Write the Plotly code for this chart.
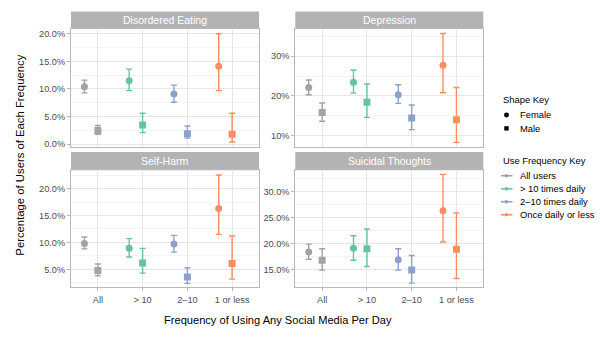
import plotly.graph_objects as go

# Frequency categories along the x axis
categories = ["All", "> 10", "2–10", "1 or less"]
group_names = ["All users", "> 10 times daily", "2–10 times daily", "Once daily or less"]
group_colors = ["#A3A3A3", "#66C2A5", "#8DA0CB", "#FC8D62"]

# Percent of users, per outcome: estimates and CI bounds, [female, male] for each group
disordered_est = [[10.4, 2.5], [11.5, 3.5], [9.1, 1.9], [14.1, 1.8]]
disordered_lo = [[9.3, 1.8], [9.7, 2.1], [7.6, 1.1], [9.7, 0.4]]
disordered_hi = [[11.6, 3.4], [13.6, 5.6], [10.7, 3.3], [20.0, 5.6]]

depression_est = [[22.1, 15.8], [23.4, 18.4], [20.3, 14.4], [27.7, 14.0]]
depression_lo = [[20.3, 13.6], [20.7, 14.6], [18.1, 11.5], [20.8, 8.3]]
depression_hi = [[24.0, 18.2], [26.5, 23.0], [22.8, 17.7], [35.7, 22.1]]

selfharm_est = [[9.8, 4.8], [8.9, 6.2], [9.7, 3.6], [16.3, 6.1]]
selfharm_lo = [[8.8, 3.8], [7.3, 4.3], [8.2, 2.4], [11.5, 3.2]]
selfharm_hi = [[11.0, 6.0], [10.7, 8.9], [11.3, 5.3], [22.5, 11.2]]

suicidal_est = [[18.4, 16.8], [19.1, 19.0], [16.9, 14.9], [26.3, 18.9]]
suicidal_lo = [[17.0, 14.9], [16.8, 15.6], [14.9, 12.4], [20.3, 13.3]]
suicidal_hi = [[19.9, 19.0], [21.5, 22.8], [19.0, 17.7], [33.3, 25.9]]

genders = ["Female", "Male"]
gender_symbols = ["circle", "square"]
gender_dodge = [-0.3, 0.0]

panels = [
    dict(title="Disordered Eating", est=disordered_est, lo=disordered_lo, hi=disordered_hi,
         xa="x", ya="y", yrange=[-0.45, 20.9], dtick=5, fmt=".1f"),
    dict(title="Depression", est=depression_est, lo=depression_lo, hi=depression_hi,
         xa="x2", ya="y2", yrange=[7.2, 36.9], dtick=10, fmt="d"),
    dict(title="Self-Harm", est=selfharm_est, lo=selfharm_lo, hi=selfharm_hi,
         xa="x3", ya="y3", yrange=[1.64, 23.4], dtick=5, fmt=".1f"),
    dict(title="Suicidal Thoughts", est=suicidal_est, lo=suicidal_lo, hi=suicidal_hi,
         xa="x4", ya="y4", yrange=[11.56, 34.1], dtick=5, fmt=".1f"),
]

W, H = 600, 346
col_px = [(71, 259), (295.3, 483.3)]
row_px = [(29, 148), (171.7, 290)]
strip_px = [(11.7, 29), (153.3, 171.7)]

fig = go.Figure()

for p_i, p in enumerate(panels):
    for g_i, gname in enumerate(group_names):
        xs = [g_i + 1 + d for d in gender_dodge]
        ys = p["est"][g_i]
        up = [h - e for h, e in zip(p["hi"][g_i], ys)]
        dn = [e - l for e, l in zip(ys, p["lo"][g_i])]
        fig.add_trace(go.Scatter(
            x=xs, y=ys, mode="markers", xaxis=p["xa"], yaxis=p["ya"],
            marker=dict(color=group_colors[g_i], size=7, symbol=gender_symbols),
            error_y=dict(type="data", array=up, arrayminus=dn, color=group_colors[g_i],
                         thickness=1.4, width=3),
            showlegend=False, hoverinfo="skip", name=gname,
        ))

font_family = "Liberation Sans, Arial, sans-serif"
tick_font = dict(family=font_family, size=9.2, color="#4D4D4D")
grid_major = "#E6E6E6"
grid_minor = "#F3F3F3"
border = "#B8B8B8"

layout = dict(
    width=W, height=H, margin=dict(l=0, r=0, t=0, b=0),
    paper_bgcolor="white", plot_bgcolor="white", showlegend=False,
    font=dict(family=font_family, color="black"),
)

for p_i, p in enumerate(panels):
    r, c = divmod(p_i, 2)
    suffix = "" if p_i == 0 else str(p_i + 1)
    x0, x1 = col_px[c]
    y0, y1 = row_px[r]
    layout["xaxis" + suffix] = dict(
        domain=[x0 / W, x1 / W], range=[0.4, 4.6], anchor="y" + suffix,
        tickmode="array", tickvals=[1, 2, 3, 4], ticktext=categories,
        showticklabels=(r == 1), tickfont=tick_font,
        ticks="outside" if r == 1 else "", ticklen=3, tickcolor=border,
        showgrid=True, gridcolor=grid_major, gridwidth=1,
        showline=True, linecolor=border, linewidth=1, mirror=True, zeroline=False,
    )
    layout["yaxis" + suffix] = dict(
        domain=[1 - y1 / H, 1 - y0 / H], range=p["yrange"], anchor="x" + suffix,
        dtick=p["dtick"], tick0=0, tickformat=p["fmt"], ticksuffix="%",
        tickfont=tick_font, ticks="outside", ticklen=3, tickcolor=border,
        showgrid=True, gridcolor=grid_major, gridwidth=1,
        minor=dict(dtick=p["dtick"] / 2, tick0=0, showgrid=True, gridcolor=grid_minor, gridwidth=1),
        showline=True, linecolor=border, linewidth=1, mirror=True, zeroline=False,
    )

shapes = []
annotations = []

# Facet strips
for p_i, p in enumerate(panels):
    r, c = divmod(p_i, 2)
    x0, x1 = col_px[c]
    s0, s1 = strip_px[r]
    shapes.append(dict(type="rect", xref="paper", yref="paper",
                       x0=x0 / W, x1=x1 / W, y0=1 - s1 / H, y1=1 - s0 / H,
                       fillcolor="#B3B3B3", line=dict(width=0), layer="below"))
    annotations.append(dict(text=p["title"], xref="paper", yref="paper",
                            x=(x0 + x1) / 2 / W, y=1 - (s0 + s1) / 2 / H,
                            showarrow=False, xanchor="center", yanchor="middle",
                            font=dict(size=10.5, color="white")))

# Axis titles
annotations.append(dict(text="Frequency of Using Any Social Media Per Day", xref="paper", yref="paper",
                        x=278 / W, y=1 - 323 / H, showarrow=False,
                        xanchor="center", yanchor="middle", font=dict(size=11.1, color="black")))
annotations.append(dict(text="Percentage of Users of Each Frequency", xref="paper", yref="paper",
                        x=20 / W, y=1 - 157 / H, showarrow=False, textangle=-90,
                        xanchor="center", yanchor="middle", font=dict(size=11.3, color="black")))


# Legend keys (compact ggplot-style spacing)
def px_x(v):
    return v / W


def px_y(v):
    return 1 - v / H


legend_left = 501.5
key_cx = 506.5
label_x = 517.5
legend_font = dict(size=9.4, color="black")


def legend_label(text, y, left):
    annotations.append(dict(text=text, xref="paper", yref="paper", x=px_x(left), y=px_y(y),
                            showarrow=False, xanchor="left", yanchor="middle", font=legend_font))


legend_label("Shape Key", 100, legend_left - 1)
shape_rows = [116, 129.5]
for s_i, gname in enumerate(genders):
    yc = shape_rows[s_i]
    half = 2.5 if gender_symbols[s_i] == "circle" else 2.2
    shapes.append(dict(type="circle" if gender_symbols[s_i] == "circle" else "rect",
                       xref="paper", yref="paper",
                       x0=px_x(key_cx - half), x1=px_x(key_cx + half),
                       y0=px_y(yc + half), y1=px_y(yc - half),
                       fillcolor="black", line=dict(width=0)))
    legend_label(gname, yc, label_x)

legend_label("Use Frequency Key", 162.3, legend_left - 1)
freq_rows = [177.3, 190.5, 203.5, 216.7]
for g_i, gname in enumerate(group_names):
    yc = freq_rows[g_i]
    shapes.append(dict(type="line", xref="paper", yref="paper",
                       x0=px_x(legend_left - 0.5), x1=px_x(legend_left + 11),
                       y0=px_y(yc), y1=px_y(yc),
                       line=dict(color=group_colors[g_i], width=1.5)))
    shapes.append(dict(type="circle", xref="paper", yref="paper",
                       x0=px_x(key_cx - 1.8), x1=px_x(key_cx + 1.8),
                       y0=px_y(yc + 1.8), y1=px_y(yc - 1.8),
                       fillcolor=group_colors[g_i], line=dict(width=0)))
    legend_label(gname, yc, label_x)

layout["shapes"] = shapes
layout["annotations"] = annotations

fig.update_layout(**layout)
fig.write_html("out.html")
